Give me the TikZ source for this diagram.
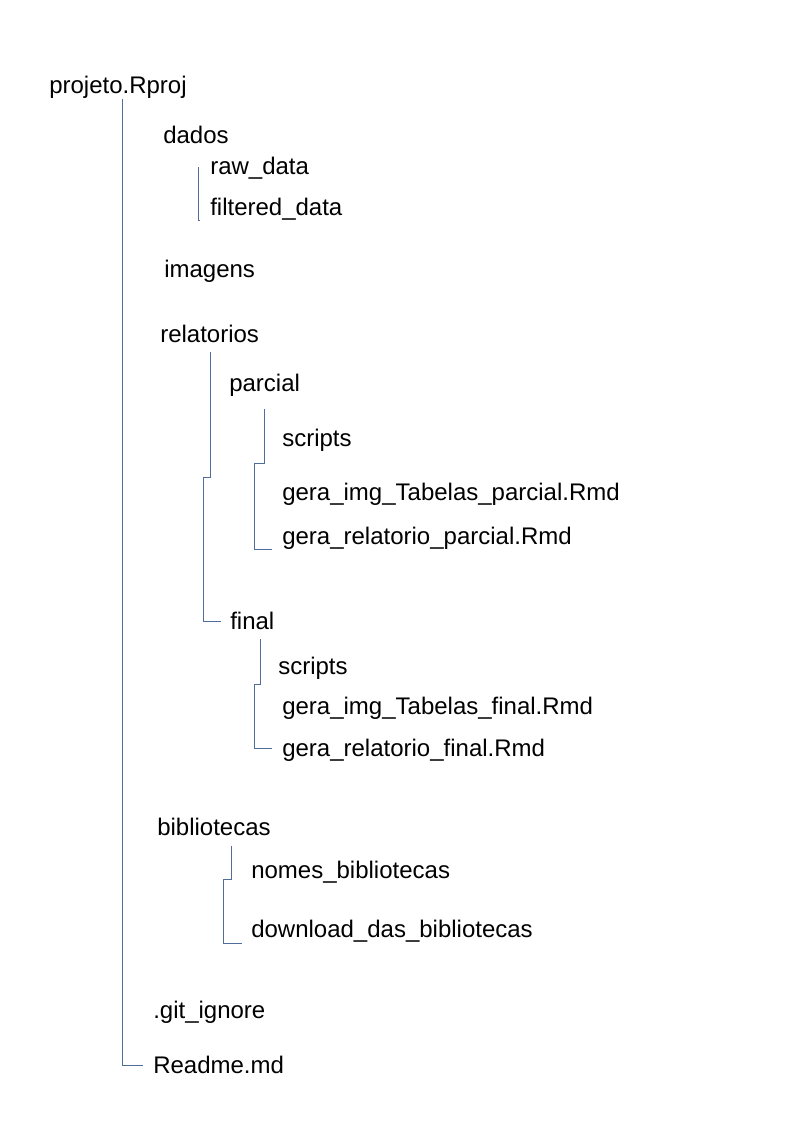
\documentclass[tikz,border=0pt]{standalone}
\usepackage{fontspec}
\setmainfont{Liberation Sans}
\definecolor{connblue}{HTML}{4F6E9C}
\begin{document}
\begin{tikzpicture}[x=0.75pt,y=-0.75pt,
  item/.style={anchor=base west,inner sep=0pt,font=\fontsize{18}{21.6}\selectfont},
  conn/.style={draw=connblue,line width=0.75pt}]
\useasboundingbox (0,0) rectangle (794,1123);
% nodes
\node[item] (proj) at (49,94) {projeto.Rproj};
\node[item] (dados) at (163,144) {dados};
\node[item] (raw) at (210,175) {raw\_data};
\node[item] (filt) at (210,215) {filtered\_data};
\node[item] (img) at (164,277) {imagens};
\node[item] (rel) at (160,342) {relatorios};
\node[item] (parc) at (229,391) {parcial};
\node[item] (scp) at (282,446) {scripts};
\node[item] (gip) at (282,500) {gera\_img\_Tabelas\_parcial.Rmd};
\node[item] (grp) at (282,544) {gera\_relatorio\_parcial.Rmd};
\node[item] (fin) at (230,629) {final};
\node[item] (scf) at (278,674) {scripts};
\node[item] (gif) at (282,714) {gera\_img\_Tabelas\_final.Rmd};
\node[item] (grf) at (282,756) {gera\_relatorio\_final.Rmd};
\node[item] (bib) at (157,835) {bibliotecas};
\node[item] (nom) at (251,878) {nomes\_bibliotecas};
\node[item] (dow) at (251,937) {download\_das\_bibliotecas};
\node[item] (git) at (153,1018) {.git\_ignore};
\node[item] (rea) at (153,1073) {Readme.md};
% connector coordinates
\coordinate (m1) at (122,99);
\coordinate (m2) at (143,1065);
\coordinate (d1) at (198,167);
\coordinate (d2) at (200,221);
\coordinate (r1) at (210,352);
\coordinate (r2) at (203,477);
\coordinate (r3) at (221,621);
\coordinate (p1) at (264,409);
\coordinate (p2) at (254,463);
\coordinate (p3) at (272,549);
\coordinate (f1) at (260,639);
\coordinate (f2) at (254,684);
\coordinate (f3) at (272,748);
\coordinate (b1) at (231,846);
\coordinate (b2) at (223,879);
\coordinate (b3) at (242,943);
% connectors
\draw[conn] (m1) |- (m2);
\draw[conn] (d1) |- (d2);
\draw[conn] (r1) |- (r2) |- (r3);
\draw[conn] (p1) |- (p2) |- (p3);
\draw[conn] (f1) |- (f2) |- (f3);
\draw[conn] (b1) |- (b2) |- (b3);
\end{tikzpicture}
\end{document}
